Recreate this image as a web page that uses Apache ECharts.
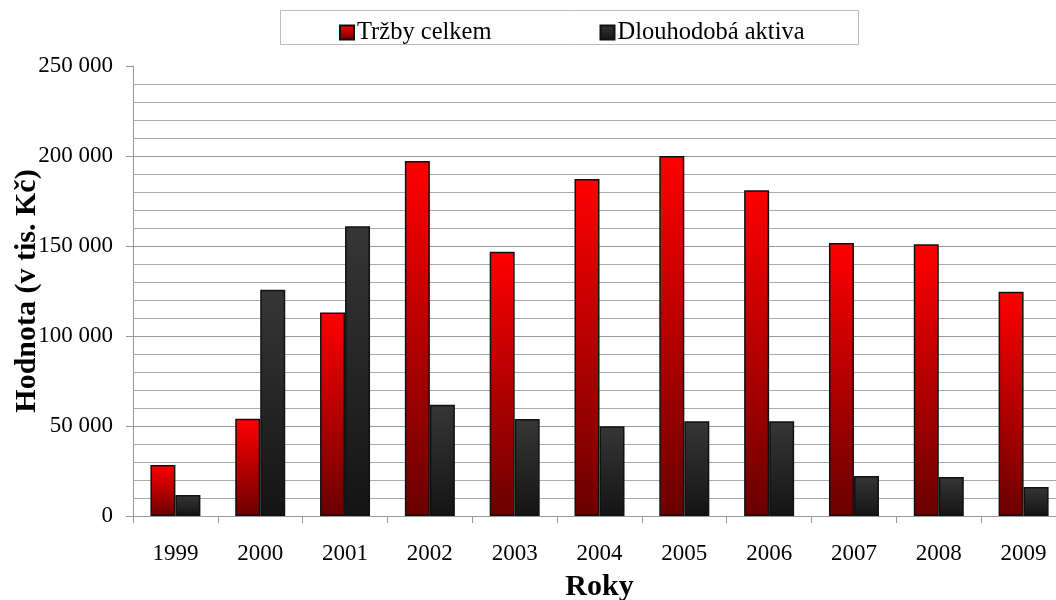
<!DOCTYPE html>
<html><head><meta charset="utf-8">
<script src="https://cdn.jsdelivr.net/npm/echarts@6/dist/echarts.min.js"></script>
<style>html,body{margin:0;padding:0;background:#fff}#c{width:1056px;height:600px}</style>
</head><body><div id="c"></div>
<script>
var categories = ['1999','2000','2001','2002','2003','2004','2005','2006','2007','2008','2009'];
var trzby = [28300, 54000, 113000, 197200, 146800, 187200, 200000, 181000, 151700, 151000, 124600];
var aktiva = [11700, 125700, 161000, 61800, 53900, 49800, 52600, 52600, 22200, 21700, 16100];
var seriesNames = ['Tržby celkem', 'Dlouhodobá aktiva'];

var font = 'Liberation Serif';
var chart = echarts.init(document.getElementById('c'), null, {renderer: 'canvas'});
function grad(top, bottom) {
  return new echarts.graphic.LinearGradient(0, 0, 0, 1, [{offset: 0, color: top}, {offset: 1, color: bottom}]);
}
chart.setOption({
  animation: false,
  backgroundColor: '#fff',
  graphic: [{type: 'rect', shape: {x: 280.5, y: 10.5, width: 578, height: 34}, style: {fill: 'none', stroke: '#bbb', lineWidth: 1}}],
  legend: {
    top: 15, left: 334, itemWidth: 14, itemHeight: 14, itemGap: 108,
    icon: 'rect',
    textStyle: {fontFamily: font, fontSize: 24.5, color: '#000', padding: [0, 0, 0, -2]},
    data: seriesNames
  },
  grid: {left: 133, right: -10, top: 66, bottom: 84, outerBoundsMode: 'none', containLabel: false},
  xAxis: {
    type: 'category', data: categories,
    name: 'Roky', nameLocation: 'middle', nameGap: 56,
    nameTextStyle: {fontFamily: font, fontSize: 30, fontWeight: 'bold', color: '#000'},
    axisLine: {lineStyle: {color: '#999'}},
    axisTick: {show: true, length: 7, lineStyle: {color: '#999'}},
    axisLabel: {fontFamily: font, fontSize: 23, color: '#000', margin: 26}
  },
  yAxis: {
    type: 'value', min: 0, max: 250000, interval: 50000,
    name: 'Hodnota (v tis. Kč)', nameLocation: 'middle', nameGap: 91, nameMoveOverlap: false,
    nameTextStyle: {fontFamily: font, fontSize: 30, fontWeight: 'bold', color: '#000'},
    axisLine: {show: true, lineStyle: {color: '#999'}},
    axisTick: {show: true, length: 7, lineStyle: {color: '#999'}},
    axisLabel: {fontFamily: font, fontSize: 23, color: '#000', margin: 20,
      formatter: function (v) { return v === 0 ? '0' : String(v).replace(/\B(?=(\d{3})+(?!\d))/g, ' '); }},
    splitLine: {show: true, lineStyle: {color: ['#999', '#999', '#999', '#999', '#999', 'rgba(0,0,0,0)'], width: 1}},
    minorTick: {show: false, splitNumber: 5},
    minorSplitLine: {show: true, lineStyle: {color: '#aaa', width: 1}}
  },
  series: [
    {name: seriesNames[0], type: 'bar', data: trzby, barWidth: 25, barGap: '0%',
      itemStyle: {color: grad('#ff0000', '#6a0000'), borderColor: '#111', borderWidth: 1.5}},
    {name: seriesNames[1], type: 'bar', data: aktiva, barWidth: 25, barGap: '0%',
      itemStyle: {color: grad('#363636', '#141414'), borderColor: '#111', borderWidth: 1.5}}
  ]
});
</script></body></html>
